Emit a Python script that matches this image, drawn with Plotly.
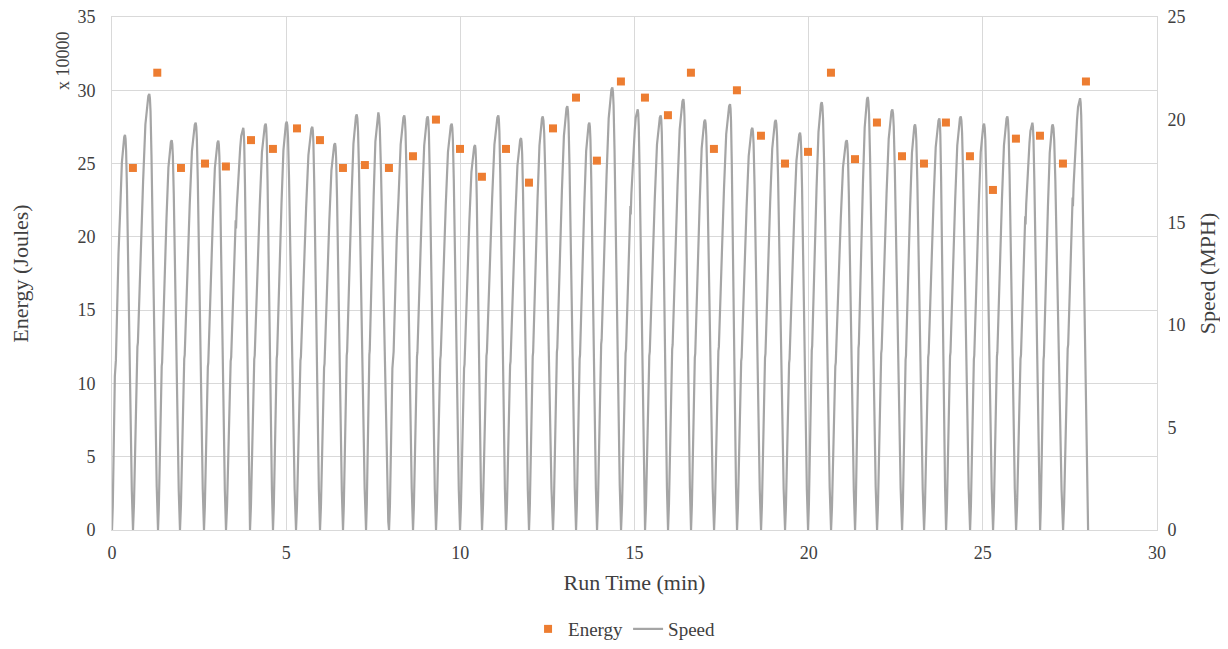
import plotly.graph_objects as go

# ---- Energy (x 10000 J) ----
energy_time = [0.60, 1.30, 1.98, 2.67, 3.27, 3.99, 4.62, 5.31, 5.97, 6.63, 7.26, 7.95, 8.64, 9.30,
               9.99, 10.62, 11.31, 11.97, 12.66, 13.32, 13.92, 14.61, 15.30, 15.96, 16.62, 17.28,
               17.94, 18.63, 19.32, 19.98, 20.64, 21.33, 21.96, 22.68, 23.31, 23.94, 24.63, 25.29,
               25.95, 26.64, 27.30, 27.96]
energy_val = [24.7, 31.2, 24.7, 25.0, 24.8, 26.6, 26.0, 27.4, 26.6, 24.7, 24.9, 24.7, 25.5, 28.0,
              26.0, 24.1, 26.0, 23.7, 27.4, 29.5, 25.2, 30.6, 29.5, 28.3, 31.2, 26.0,
              30.0, 26.9, 25.0, 25.8, 31.2, 25.3, 27.8, 25.5, 25.0, 27.8, 25.5, 23.2,
              26.7, 26.9, 25.0, 30.6]

# ---- Speed (MPH): per-stroke readings ----
trough_time = [0.0, 0.603, 1.321, 1.952, 2.641, 3.273, 3.962, 4.622, 5.283, 5.972, 6.632, 7.293,
               7.953, 8.642, 9.302, 9.991, 10.623, 11.312, 11.972, 12.661, 13.322, 13.925, 14.614,
               15.303, 15.963, 16.623, 17.284, 17.944, 18.633, 19.322, 19.983, 20.643, 21.332,
               21.964, 22.682, 23.313, 23.945, 24.634, 25.294, 25.955, 26.644, 27.304, 28.022]
peak_time = [0.373, 1.071, 1.714, 2.403, 3.052, 3.769, 4.413, 5.016, 5.751, 6.403, 7.026, 7.646,
             8.392, 9.064, 9.753, 10.422, 11.091, 11.743, 12.366, 13.072, 13.704, 14.364, 15.093,
             15.754, 16.403, 17.025, 17.743, 18.384, 19.055, 19.753, 20.376, 21.094, 21.696,
             22.403, 23.055, 23.753, 24.367, 25.036, 25.705, 26.423, 27.008, 27.792]
peak_speed = [19.25, 21.25, 19.0, 19.85, 18.97, 19.6, 19.8, 19.9, 19.65, 18.85, 20.25, 20.35,
              20.2, 20.15, 19.8, 18.76, 20.2, 19.1, 20.15, 20.65, 19.85, 21.57, 20.5, 20.2,
              21.0, 20.0, 20.75, 19.6, 19.98, 19.36, 20.85, 19.0, 21.1, 20.5, 19.77, 20.06,
              20.15, 19.8, 20.15, 19.85, 19.77, 21.04]
# rise profile read from the strokes: fraction of rise time, fraction of peak speed
rise_frac_t = [0.0, 0.06, 0.22, 0.27, 0.30, 0.50, 0.56, 0.58, 0.62, 0.76, 0.82, 0.88, 0.94]
rise_frac_v = [0.0, 0.06, 0.39, 0.42, 0.43, 0.70, 0.77, 0.75, 0.80, 0.93, 0.95, 0.98, 0.995]
fall_frac_t = [0.07, 0.14, 0.25, 0.85, 0.93]
fall_frac_v = [0.99, 0.96, 0.86, 0.10, 0.02]

speed_t, speed_v = [], []
for i, (tp, vp) in enumerate(zip(peak_time, peak_speed)):
    t0, t1 = trough_time[i], trough_time[i + 1]
    for ft, fv in zip(rise_frac_t, rise_frac_v):
        speed_t.append(t0 + ft * (tp - t0))
        speed_v.append(fv * vp)
    speed_t.append(tp)
    speed_v.append(vp)
    for ft, fv in zip(fall_frac_t, fall_frac_v):
        speed_t.append(tp + ft * (t1 - tp))
        speed_v.append(fv * vp)
speed_t.append(trough_time[-1])
speed_v.append(0.0)

txt = dict(family="Liberation Serif", size=18, color="#404040")
grid = "#D9D9D9"
fig = go.Figure()
fig.add_trace(go.Scatter(
    x=speed_t, y=speed_v, mode="lines", name="Speed", yaxis="y2",
    line=dict(color="#A5A5A5", width=2.2), legendrank=2))
fig.add_trace(go.Scatter(
    x=energy_time, y=energy_val, mode="markers", name="Energy",
    marker=dict(symbol="square", size=8, color="#ED7D31"), legendrank=1))

fig.update_layout(
    width=1212, height=633,
    margin=dict(l=104, r=63, t=9, b=111, autoexpand=False),
    paper_bgcolor="white", plot_bgcolor="white",
    font=txt,
    showlegend=True,
    legend=dict(orientation="h", x=0.49, xanchor="center", y=-0.156, yanchor="top",
                itemwidth=30,
                font=dict(family="Liberation Serif", size=19, color="#404040")),
    xaxis=dict(range=[0, 30], tickvals=[0, 5, 10, 15, 20, 25, 30], showgrid=True,
               gridcolor=grid, gridwidth=1, zeroline=False,
               showline=True, mirror=True, linecolor=grid, linewidth=1,
               ticks="outside", ticklen=6, tickcolor="rgba(0,0,0,0)",
               ticklabeloverflow="allow",
               automargin=False, title=dict(text="Run Time (min)", standoff=13)),
    yaxis=dict(range=[0, 35], tickvals=[0, 5, 10, 15, 20, 25, 30, 35], showgrid=True,
               gridcolor=grid, gridwidth=1, zeroline=False,
               showline=True, mirror=True, linecolor=grid, linewidth=1,
               ticks="outside", ticklen=12, tickcolor="rgba(0,0,0,0)",
               ticklabeloverflow="allow",
               automargin=False, title=dict(text="Energy (Joules)", standoff=51)),
    yaxis2=dict(range=[0, 25], tickvals=[0, 5, 10, 15, 20, 25], overlaying="y", side="right",
                showgrid=False, zeroline=False, showline=False,
                ticks="outside", ticklen=6, tickcolor="rgba(0,0,0,0)",
                ticklabeloverflow="allow",
                automargin=False, title=dict(text="Speed (MPH)", standoff=23)),
    annotations=[dict(text="x 10000", x=-0.047, y=0.916, xref="paper", yref="paper",
                      textangle=-90, showarrow=False, xanchor="center", yanchor="middle",
                      font=txt)],
)

fig.write_html("out.html")
